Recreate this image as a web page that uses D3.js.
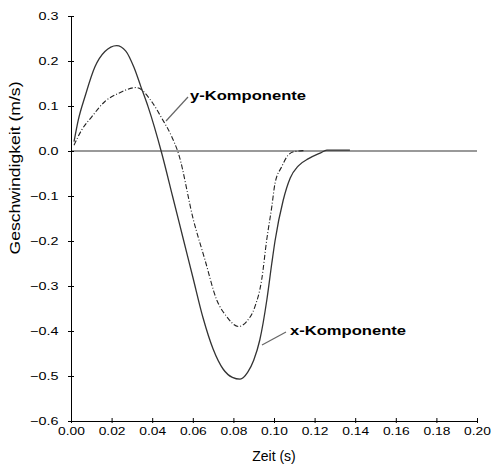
<!DOCTYPE html>
<html>
<head>
<meta charset="utf-8">
<script src="https://cdn.jsdelivr.net/npm/d3@7"></script>
<style>
  body { margin: 0; background: #fff; }
  svg text { font-family: "Liberation Sans", Arial, sans-serif; fill: #000; }
</style>
</head>
<body>
<div id="chart-area"></div>
<script>
// x-Komponente (durchgezogen)
let xTime = [0.0015, 0.0036, 0.0069, 0.0118, 0.0167, 0.0225, 0.027, 0.031, 0.0345, 0.038, 0.0447,
  0.05, 0.055, 0.06, 0.065, 0.07, 0.075, 0.0795, 0.0833, 0.087, 0.09, 0.093, 0.0965, 0.0989,
  0.1005, 0.1045, 0.108, 0.112, 0.117, 0.123, 0.126, 0.1374];
let xVel = [0.021, 0.069, 0.121, 0.187, 0.221, 0.234, 0.222, 0.186, 0.142, 0.098, -0.005,
  -0.1, -0.19, -0.28, -0.37, -0.44, -0.485, -0.503, -0.507, -0.492, -0.465, -0.42, -0.33, -0.25,
  -0.2, -0.11, -0.06, -0.033, -0.017, -0.004, 0.002, 0.002];

// y-Komponente (gestrichelt)
let yTime = [0.0015, 0.0053, 0.0102, 0.0167, 0.0233, 0.0323, 0.0397, 0.0447, 0.0496, 0.0529,
  0.0603, 0.066, 0.0718, 0.0767, 0.0824, 0.0865, 0.0906, 0.0939, 0.0964, 0.0989, 0.1005,
  0.1038, 0.107, 0.1103, 0.115];
let yVel = [0.013, 0.047, 0.076, 0.11, 0.128, 0.141, 0.11, 0.073, 0.032, -0.005,
  -0.153, -0.242, -0.331, -0.368, -0.39, -0.379, -0.346, -0.287, -0.198, -0.124, -0.072,
  -0.035, -0.009, -0.001, 0.001];

let xTicks = [0, 0.02, 0.04, 0.06, 0.08, 0.10, 0.12, 0.14, 0.16, 0.18, 0.20];
let yTicks = [0.3, 0.2, 0.1, 0.0, -0.1, -0.2, -0.3, -0.4, -0.5, -0.6];

let svg = d3.select("#chart-area").append("svg")
  .attr("width", 504)
  .attr("height", 465);

let x = d3.scaleLinear().domain([0, 0.2]).range([71, 477]);
let y = d3.scaleLinear().domain([-0.6, 0.3]).range([421, 16]);

// Nulllinie
svg.append("line")
  .attr("x1", x(0)).attr("x2", x(0.2))
  .attr("y1", y(0)).attr("y2", y(0))
  .attr("stroke", "#777").attr("stroke-width", 1.5);

// Achsen
let yAxis = svg.append("g")
  .attr("transform", "translate(" + x(0) + ",0)")
  .call(d3.axisLeft(y).tickValues(yTicks).tickFormat(d3.format(".1f")).tickSizeOuter(0));
yAxis.select(".domain").attr("stroke", "#000");
yAxis.selectAll(".tick line").attr("x1", -3).attr("x2", 3).attr("stroke", "#000");
yAxis.selectAll(".tick text")
  .attr("x", -10)
  .attr("transform", "scale(1.25,1)")
  .style("font-size", "11.5px");

let xAxis = svg.append("g")
  .attr("transform", "translate(0," + y(-0.6) + ")")
  .call(d3.axisBottom(x).tickValues(xTicks).tickFormat(d3.format(".2f")).tickSizeOuter(0));
xAxis.select(".domain").attr("stroke", "#000");
xAxis.selectAll(".tick line").attr("y1", -3).attr("y2", 2).attr("stroke", "#000");
xAxis.selectAll(".tick text")
  .attr("y", 6)
  .attr("transform", "scale(1.2,1)")
  .style("font-size", "11.5px");
xAxis.selectAll(".tick text").attr("x", 0);
svg.selectAll("g").attr("font-family", null).attr("font-size", null);

// Titel
svg.append("text")
  .attr("x", 274).attr("y", 461)
  .attr("text-anchor", "middle")
  .style("font-size", "14px")
  .text("Zeit (s)");

svg.append("text")
  .attr("transform", "translate(20,168) rotate(-90)")
  .attr("text-anchor", "middle")
  .attr("textLength", 173)
  .attr("lengthAdjust", "spacingAndGlyphs")
  .style("font-size", "14px")
  .text("Geschwindigkeit (m/s)");

// Kurven
let line = d3.line()
  .x((d) => x(d[0]))
  .y((d) => y(d[1]))
  .curve(d3.curveMonotoneX);

svg.append("path")
  .datum(yTime.map((t, i) => [t, yVel[i]]))
  .attr("d", line)
  .attr("fill", "none")
  .attr("stroke", "#222")
  .attr("stroke-width", 1.1)
  .attr("stroke-dasharray", "5,2,1,2");

svg.append("path")
  .datum(xTime.map((t, i) => [t, xVel[i]]))
  .attr("d", line)
  .attr("fill", "none")
  .attr("stroke", "#333")
  .attr("stroke-width", 1.3);

// Beschriftungen
svg.append("line")
  .attr("x1", 188).attr("y1", 97).attr("x2", 166).attr("y2", 121)
  .attr("stroke", "#666").attr("stroke-width", 1.2);
svg.append("text")
  .attr("x", 190).attr("y", 100)
  .attr("textLength", 116)
  .attr("lengthAdjust", "spacingAndGlyphs")
  .style("font-size", "12px").style("font-weight", "bold")
  .text("y-Komponente");

svg.append("line")
  .attr("x1", 286).attr("y1", 332).attr("x2", 262).attr("y2", 345)
  .attr("stroke", "#666").attr("stroke-width", 1.2);
svg.append("text")
  .attr("x", 290).attr("y", 335)
  .attr("textLength", 116)
  .attr("lengthAdjust", "spacingAndGlyphs")
  .style("font-size", "12px").style("font-weight", "bold")
  .text("x-Komponente");
</script>
</body>
</html>
